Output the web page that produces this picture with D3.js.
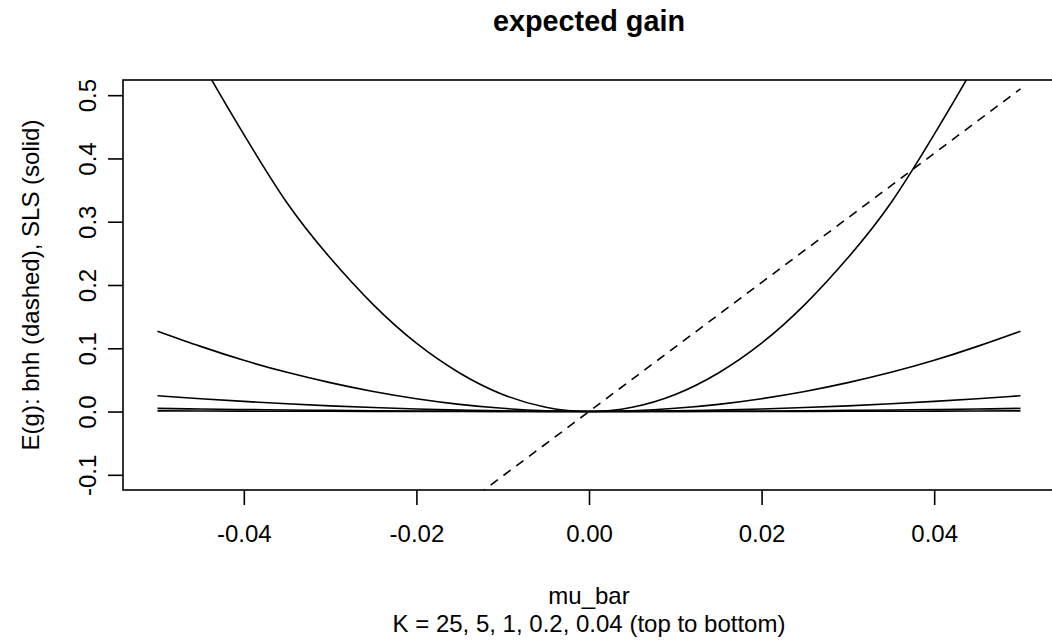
<!DOCTYPE html>
<html lang="en">
<head>
<meta charset="UTF-8">
<title>expected gain</title>
<script src="https://cdnjs.cloudflare.com/ajax/libs/d3/7.8.5/d3.min.js"></script>
<style>
  body { margin: 0; background: #fff; }
  text { font-family: "Liberation Sans", Arial, Helvetica, sans-serif; fill: #000; }
  .curve { fill: none; stroke: #000; stroke-width: 1.6px; }
</style>
</head>
<body>
<script>
// mu_bar grid, read every 0.005
var muBar = [-0.05, -0.045, -0.04, -0.035, -0.03, -0.025, -0.02, -0.015, -0.01, -0.005,
             0, 0.005, 0.01, 0.015, 0.02, 0.025, 0.03, 0.035, 0.04, 0.045, 0.05];

// SLS expected gain, one list per K (top to bottom)
var slsK25  = [0.685, 0.555, 0.438, 0.330, 0.243, 0.169, 0.108, 0.061, 0.027, 0.0068,
               0, 0.0068, 0.027, 0.061, 0.108, 0.169, 0.243, 0.330, 0.438, 0.555, 0.685];
var slsK5   = [0.127, 0.103, 0.081, 0.062, 0.0457, 0.0317, 0.0203, 0.0114, 0.0051, 0.0013,
               0, 0.0013, 0.0051, 0.0114, 0.0203, 0.0317, 0.0457, 0.062, 0.081, 0.103, 0.127];
var slsK1   = [0.025, 0.0203, 0.016, 0.0123, 0.009, 0.0063, 0.004, 0.0023, 0.001, 0.0003,
               0, 0.0003, 0.001, 0.0023, 0.004, 0.0063, 0.009, 0.0123, 0.016, 0.0203, 0.025];
var slsK02  = [0.005, 0.004, 0.0032, 0.0025, 0.0018, 0.0013, 0.0008, 0.0005, 0.0002, 0.0001,
               0, 0.0001, 0.0002, 0.0005, 0.0008, 0.0013, 0.0018, 0.0025, 0.0032, 0.004, 0.005];
var slsK004 = [0.001, 0.0008, 0.0006, 0.0005, 0.00036, 0.00025, 0.00016, 0.0001, 0.00004, 0.00001,
               0, 0.00001, 0.00004, 0.0001, 0.00016, 0.00025, 0.00036, 0.0005, 0.0006, 0.0008, 0.001];

// buy and hold (dashed) end points
var bnhMu   = [-0.05, 0.05];
var bnhGain = [-0.51, 0.51];

var xTicks = [-0.04, -0.02, 0, 0.02, 0.04];
var yTicks = [-0.1, 0, 0.1, 0.2, 0.3, 0.4, 0.5];

var W = 1052, H = 642;
var margin = {top: 80, right: -3, bottom: 152, left: 123};

// R prints a plain hyphen for negatives
var loc = d3.formatLocale({decimal: ".", thousands: ",", grouping: [3], currency: ["", ""], minus: "-"});

var svg = d3.select("body").append("svg")
    .attr("width", W)
    .attr("height", H);

// R style 4% padding around the data range
var x = d3.scaleLinear().domain([-0.054, 0.054]).range([margin.left, W - margin.right]);
var y = d3.scaleLinear().domain([-0.124, 0.524]).range([H - margin.bottom, margin.top]);

svg.append("clipPath").attr("id", "plotclip")
  .append("rect")
    .attr("x", x.range()[0])
    .attr("y", y.range()[1])
    .attr("width", x.range()[1] - x.range()[0])
    .attr("height", y.range()[0] - y.range()[1]);

var line = d3.line()
    .x(function(d) { return x(d[0]); })
    .y(function(d) { return y(d[1]); })
    .curve(d3.curveNatural);

var plot = svg.append("g").attr("clip-path", "url(#plotclip)");

[slsK25, slsK5, slsK1, slsK02, slsK004].forEach(function(series) {
    plot.append("path")
        .attr("class", "curve")
        .attr("d", line(d3.zip(muBar, series)));
});

plot.append("path")
    .attr("class", "curve")
    .attr("stroke-dasharray", "9,7")
    .attr("d", d3.line().x(function(d) { return x(d[0]); }).y(function(d) { return y(d[1]); })(d3.zip(bnhMu, bnhGain)));

// box
svg.append("rect")
    .attr("x", x.range()[0])
    .attr("y", y.range()[1])
    .attr("width", x.range()[1] - x.range()[0])
    .attr("height", y.range()[0] - y.range()[1])
    .attr("fill", "none")
    .attr("stroke", "#000")
    .attr("stroke-width", 1.6);

// axes
var xAxis = svg.append("g")
    .attr("transform", "translate(0," + y.range()[0] + ")")
    .call(d3.axisBottom(x).tickValues(xTicks).tickSize(15).tickPadding(20)
        .tickFormat(loc.format(".2f")));
xAxis.select(".domain").remove();
xAxis.selectAll("line").attr("stroke-width", 1.6);
xAxis.selectAll("text").style("font-size", "24px").attr("font-family", null);

var yAxis = svg.append("g")
    .attr("transform", "translate(" + x.range()[0] + ",0)")
    .call(d3.axisLeft(y).tickValues(yTicks).tickSize(15).tickFormat(loc.format(".1f")));
yAxis.select(".domain").remove();
yAxis.selectAll("line").attr("stroke-width", 1.6);
yAxis.selectAll("text")
    .style("font-size", "24px")
    .attr("font-family", null)
    .attr("x", null).attr("dy", null)
    .attr("text-anchor", "middle")
    .attr("transform", "translate(-27,0) rotate(-90)");

// titles
svg.append("text")
    .attr("x", 589).attr("y", 31)
    .attr("text-anchor", "middle")
    .style("font-size", "28.8px")
    .style("font-weight", "bold")
    .text("expected gain");

svg.append("text")
    .attr("x", 589).attr("y", 604)
    .attr("text-anchor", "middle")
    .style("font-size", "24px")
    .text("mu_bar");

svg.append("text")
    .attr("x", 589).attr("y", 632)
    .attr("text-anchor", "middle")
    .style("font-size", "24px")
    .text("K = 25, 5, 1, 0.2, 0.04 (top to bottom)");

svg.append("text")
    .attr("transform", "translate(39," + (y.range()[0] + y.range()[1]) / 2 + ") rotate(-90)")
    .attr("text-anchor", "middle")
    .style("font-size", "24px")
    .text("E(g): bnh (dashed), SLS (solid)");
</script>
</body>
</html>
